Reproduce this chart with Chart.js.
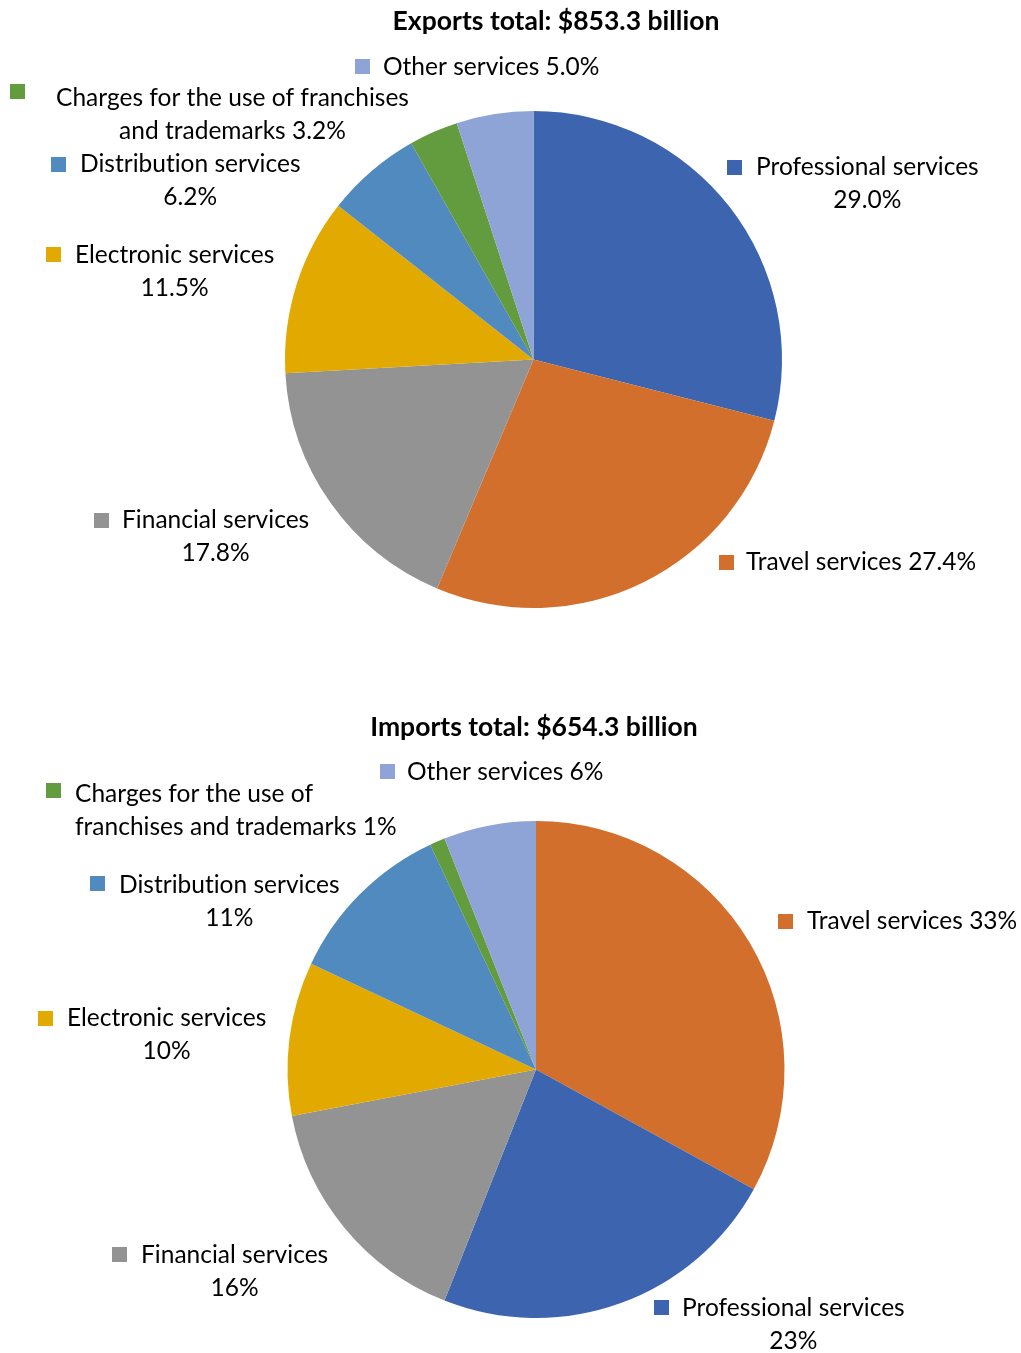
<!DOCTYPE html>
<html>
<head>
<meta charset="utf-8">
<script src="https://cdn.jsdelivr.net/npm/chart.js@4.4.1/dist/chart.umd.min.js"></script>
<style>
  body { margin: 0; background: #fff; }
  .pie-box { position: relative; width: 1021px; }
  #exportsBox { height: 680px; }
  #importsBox { height: 673px; }
</style>
</head>
<body>
<div class="pie-box" id="exportsBox"><canvas id="exportsChart"></canvas></div>
<div class="pie-box" id="importsBox"><canvas id="importsChart"></canvas></div>
<script>
// Services trade by type, share of total (%)
const exportCategories = ['Professional services', 'Travel services', 'Financial services', 'Electronic services',
    'Distribution services', 'Charges for the use of franchises and trademarks', 'Other services'];
const exportValues = [29.0, 27.4, 17.8, 11.5, 6.2, 3.2, 5.0];

const importCategories = ['Travel services', 'Professional services', 'Financial services', 'Electronic services',
    'Distribution services', 'Charges for the use of franchises and trademarks', 'Other services'];
const importValues = [33, 23, 16, 10, 11, 1, 6];

const exportsTitle = 'Exports total: $853.3 billion';
const importsTitle = 'Imports total: $654.3 billion';

const categoryColors = {
    'Professional services': '#3d64ae',
    'Travel services': '#d36f2c',
    'Financial services': '#939393',
    'Electronic services': '#e2aa00',
    'Distribution services': '#508abe',
    'Charges for the use of franchises and trademarks': '#639b3f',
    'Other services': '#8fa4d6'
};

const LABEL_FONT = '24.5px Lato';
const TITLE_FONT = 'bold 26.5px Lato';
const LINE_GAP = 32.5;

// label placement, same order as categories: square (sx, sy), text left / baseline, words on first line
const exportLabelPos = [
    { sx: 727, sy: 160, tx: 756, ty: 175, wrap: 2 },
    { sx: 719, sy: 555, tx: 746, ty: 570, wrap: 0 },
    { sx: 94,  sy: 513, tx: 122, ty: 528, wrap: 2 },
    { sx: 46,  sy: 247, tx: 75,  ty: 263, wrap: 2 },
    { sx: 51,  sy: 157, tx: 80,  ty: 172, wrap: 2 },
    { sx: 10,  sy: 84,  tx: 56,  ty: 106, wrap: 6 },
    { sx: 355, sy: 59,  tx: 383, ty: 75,  wrap: 0 }
];
const importLabelPos = [
    { sx: 778, sy: 234, tx: 807, ty: 249, wrap: 0 },
    { sx: 654, sy: 620, tx: 682, ty: 636, wrap: 2 },
    { sx: 112, sy: 567, tx: 141, ty: 583, wrap: 2 },
    { sx: 38,  sy: 331, tx: 67,  ty: 346, wrap: 2 },
    { sx: 90,  sy: 196, tx: 119, ty: 213, wrap: 2 },
    { sx: 46,  sy: 103, tx: 75,  ty: 122, wrap: 5, align: 'left' },
    { sx: 380, sy: 84,  tx: 407, ty: 100, wrap: 0 }
];

// Draws the title and the square-marker labels next to each slice
const sliceLabels = {
    id: 'sliceLabels',
    afterDraw(chart, args, opts) {
        const ctx = chart.ctx;
        const ds = chart.data.datasets[0];
        ctx.save();
        // tiny spacing keeps Lato from forming the "ti" ligature
        ctx.letterSpacing = '0.01px';
        ctx.textBaseline = 'alphabetic';
        ctx.fillStyle = '#000';
        ctx.font = TITLE_FONT;
        ctx.textAlign = 'center';
        ctx.fillText(opts.title, opts.titleX, opts.titleY);

        ctx.font = LABEL_FONT;
        chart.data.labels.forEach((name, i) => {
            const pos = opts.positions[i];
            const words = (name + ' ' + opts.format(ds.data[i])).split(' ');
            const lines = pos.wrap
                ? [words.slice(0, pos.wrap).join(' '), words.slice(pos.wrap).join(' ')]
                : [words.join(' ')];

            ctx.fillStyle = ds.backgroundColor[i];
            ctx.fillRect(pos.sx, pos.sy, 15, 15);

            ctx.fillStyle = '#000';
            const firstWidth = ctx.measureText(lines[0]).width;
            lines.forEach((line, j) => {
                const y = pos.ty + j * LINE_GAP;
                if (pos.align === 'left') {
                    ctx.textAlign = 'left';
                    ctx.fillText(line, pos.tx, y);
                } else {
                    ctx.textAlign = 'center';
                    ctx.fillText(line, pos.tx + firstWidth / 2, y);
                }
            });
        });
        ctx.restore();
    }
};

function makePie(canvasId, labels, values, padding, labelOpts) {
    return new Chart(document.getElementById(canvasId), {
        type: 'pie',
        data: {
            labels: labels,
            datasets: [{
                data: values,
                backgroundColor: labels.map(l => categoryColors[l]),
                borderWidth: 0,
                hoverOffset: 0
            }]
        },
        options: {
            responsive: true,
            maintainAspectRatio: false,
            animation: false,
            layout: { padding: padding },
            plugins: {
                legend: { display: false },
                tooltip: { enabled: false },
                sliceLabels: labelOpts
            }
        },
        plugins: [sliceLabels]
    });
}

makePie('exportsChart', exportCategories, exportValues,
    { left: 285, right: 239, top: 111, bottom: 72 },
    { title: exportsTitle, titleX: 556, titleY: 30, positions: exportLabelPos,
      format: v => v.toFixed(1) + '%' });

makePie('importsChart', importCategories, importValues,
    { left: 287, right: 236, top: 141, bottom: 35 },
    { title: importsTitle, titleX: 534, titleY: 56, positions: importLabelPos,
      format: v => v + '%' });
</script>
</body>
</html>
